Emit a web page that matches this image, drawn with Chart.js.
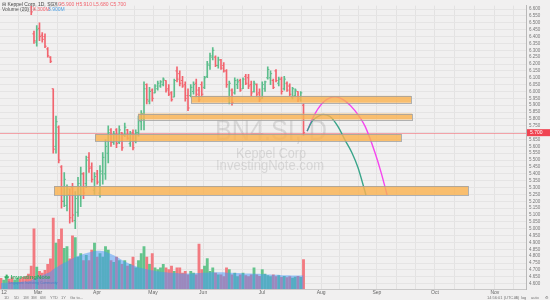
<!DOCTYPE html>
<html>
<head>
<meta charset="utf-8">
<script src="https://cdn.jsdelivr.net/npm/chart.js@4.4.1/dist/chart.umd.min.js"></script>
<style>
  html, body { margin: 0; padding: 0; background: #f1f0f0; }
  #wrap { width: 550px; height: 300px; }
</style>
</head>
<body>
<div id="wrap"><canvas id="chart" width="550" height="300"></canvas></div>
<script>
// time axis: bar index -> month labels
const monthTicks = [1.1, 13.45, 34.9, 55.3, 73.5, 94.9, 116.4, 136.7, 157.8, 179.6];
const monthLabels = ['12', 'Mar', 'Apr', 'May', 'Jun', 'Jul', 'Aug', 'Sep', 'Oct', 'Nov'];

// daily OHLC, BN4.SI
const openP = [6.90, 6.88, 6.90, 6.93, 6.90, 6.86, 6.88, 6.90, 6.87, 6.82, 6.78, 6.70, 6.42, 6.36, 6.46, 6.41, 6.40, 6.31, 6.25, 6.02,
  5.60, 5.74, 5.45, 5.20, 5.17, 5.25, 5.30, 5.06, 5.12, 5.25, 5.40, 5.33, 5.52, 5.45, 5.28, 5.40, 5.26, 5.40, 5.40, 5.55,
  5.72, 5.63, 5.72, 5.63, 5.70, 5.68, 5.72, 5.62, 5.70, 5.64, 5.70, 5.78, 5.80, 6.05, 5.93, 6.01, 5.99, 6.02, 6.04, 6.05,
  6.08, 6.02, 5.99, 5.96, 6.15, 6.13, 6.08, 6.05, 5.97, 5.97, 6.00, 6.06, 6.01, 6.05, 6.03, 6.11, 6.19, 6.25, 6.25, 6.19,
  6.23, 6.19, 6.15, 5.95, 6.01, 5.99, 6.05, 6.08, 6.02, 6.11, 6.10, 6.05, 6.00, 6.05, 5.99, 5.95, 6.02, 6.10, 6.10, 6.08,
  6.15, 6.06, 6.09, 6.02, 6.06, 6.04, 5.96, 5.97, 6.00, 5.95, 5.90];
const highP = [6.95, 6.92, 6.96, 6.97, 6.93, 6.90, 6.92, 6.94, 6.90, 6.86, 6.80, 6.72, 6.44, 6.48, 6.50, 6.43, 6.42, 6.32, 6.255, 6.02,
  5.82, 5.75, 5.46, 5.41, 5.32, 5.29, 5.33, 5.27, 5.375, 5.45, 5.41, 5.53, 5.555, 5.48, 5.41, 5.425, 5.46, 5.555, 5.65, 5.75,
  5.73, 5.71, 5.73, 5.75, 5.70, 5.77, 5.725, 5.71, 5.72, 5.72, 5.82, 5.86, 6.07, 6.055, 6.03, 6.02, 6.05, 6.075, 6.08, 6.10,
  6.08, 6.05, 6.00, 6.09, 6.18, 6.15, 6.11, 6.07, 6.02, 6.05, 6.07, 6.09, 6.03, 6.07, 6.11, 6.22, 6.28, 6.32, 6.26, 6.25,
  6.235, 6.21, 6.16, 6.075, 6.02, 6.10, 6.09, 6.09, 6.10, 6.125, 6.125, 6.075, 6.075, 6.055, 6.02, 6.07, 6.075, 6.18, 6.15, 6.09,
  6.16, 6.105, 6.105, 6.11, 6.07, 6.055, 6.03, 6.02, 6.00, 6.00, 5.91];
const lowP = [6.86, 6.83, 6.87, 6.88, 6.84, 6.82, 6.85, 6.86, 6.80, 6.76, 6.70, 6.56, 6.35, 6.33, 6.37, 6.36, 6.32, 6.25, 6.21, 5.55,
  5.55, 5.48, 5.15, 5.16, 5.13, 5.04, 5.05, 5.00, 5.09, 5.16, 5.22, 5.30, 5.41, 5.34, 5.25, 5.325, 5.23, 5.325, 5.36, 5.48,
  5.60, 5.615, 5.59, 5.62, 5.57, 5.67, 5.65, 5.60, 5.575, 5.625, 5.675, 5.72, 5.72, 5.91, 5.91, 5.93, 5.99, 6.01, 6.03, 6.04,
  5.995, 5.97, 5.93, 5.96, 6.07, 6.04, 6.03, 5.93, 5.86, 5.96, 5.98, 5.96, 5.925, 5.96, 6.02, 6.10, 6.16, 6.23, 6.18, 6.17,
  6.16, 6.14, 6.03, 5.91, 5.90, 5.98, 6.02, 6.00, 6.02, 6.05, 6.02, 5.97, 5.995, 5.96, 5.925, 5.95, 6.00, 6.09, 6.05, 6.02,
  6.07, 6.04, 5.98, 6.01, 6.00, 5.97, 5.945, 5.96, 5.925, 5.93, 5.68];
const closeP = [6.88, 6.90, 6.93, 6.90, 6.86, 6.88, 6.90, 6.87, 6.82, 6.78, 6.72, 6.58, 6.37, 6.45, 6.40, 6.38, 6.33, 6.26, 6.22, 5.58,
  5.78, 5.50, 5.20, 5.36, 5.29, 5.08, 5.10, 5.22, 5.33, 5.40, 5.26, 5.50, 5.44, 5.36, 5.38, 5.34, 5.42, 5.52, 5.60, 5.70,
  5.63, 5.69, 5.62, 5.72, 5.59, 5.74, 5.66, 5.69, 5.59, 5.70, 5.79, 5.84, 6.02, 5.94, 6.00, 5.95, 6.04, 6.06, 6.07, 6.09,
  6.01, 5.98, 5.94, 6.08, 6.09, 6.06, 6.04, 5.95, 5.88, 6.03, 6.05, 5.98, 5.94, 5.98, 6.10, 6.20, 6.26, 6.30, 6.19, 6.23,
  6.17, 6.15, 6.05, 6.06, 5.92, 6.08, 6.07, 6.01, 6.09, 6.06, 6.04, 5.99, 6.06, 5.98, 5.94, 6.05, 6.07, 6.16, 6.13, 6.03,
  6.08, 6.09, 6.00, 6.09, 6.01, 5.98, 6.02, 6.01, 5.94, 5.99, 5.70];
// volume in millions and its 20-day average
const volume = [3.0, 2.5, 3.5, 2.8, 3.2, 2.6, 3.0, 2.9, 3.3, 3.6, 4.2, 6.5, 17, 6.2, 5.0, 4.5, 5.3, 7.0, 8.5, 20,
  13, 14, 17, 11.5, 12, 8.5, 15, 14.5, 9, 10, 8, 9.5, 8, 11, 13, 9, 10, 9, 12, 11,
  8, 7.5, 9, 8, 7, 8, 6.5, 7, 9, 6, 8, 10, 12, 9, 7, 10, 6, 5.5, 6, 7,
  6, 5.5, 6.5, 5, 6, 6, 4.5, 5, 4, 5, 4.5, 4, 12.7, 5.5, 6.5, 8.6, 5, 6, 4.5, 4,
  4, 3.5, 6, 5.5, 4, 4.5, 3.5, 4, 4.5, 3.8, 3.5, 4, 6, 4, 3.6, 5.5, 4.2, 3.8, 3.5, 4,
  3.5, 3.8, 3.3, 3.6, 3.2, 3.5, 3.1, 3.4, 3.6, 3.3, 8.3];
const volumeMA = [1.7, 1.7, 1.8, 1.8, 1.9, 1.9, 2.0, 2.0, 2.1, 2.1, 2.2, 2.4, 3.0, 3.3, 3.6, 3.9, 4.2, 4.5, 4.9, 5.6,
  6.0, 6.5, 7.0, 7.4, 7.8, 8.2, 8.6, 9.0, 9.3, 9.6, 9.9, 10.1, 10.3, 10.5, 10.7, 10.8, 10.8, 10.7, 10.5, 10.2,
  9.9, 9.5, 9.1, 8.7, 8.2, 7.8, 7.4, 7.0, 6.7, 6.4, 6.1, 5.9, 5.7, 5.6, 5.4, 5.3, 5.1, 5.0, 4.9, 4.8,
  4.7, 4.6, 4.6, 4.5, 4.5, 4.4, 4.4, 4.4, 4.4, 4.4, 4.4, 4.5, 4.5, 4.6, 4.6, 4.6, 4.7, 4.7, 4.7, 4.7,
  4.7, 4.7, 4.6, 4.6, 4.6, 4.5, 4.5, 4.5, 4.4, 4.4, 4.4, 4.4, 4.3, 4.3, 4.3, 4.2, 4.2, 4.1, 4.1, 4.0,
  4.0, 4.0, 3.9, 3.9, 3.9, 3.9, 3.8, 3.8, 3.8, 3.8, 3.9];

// support zones: [startIndex, endIndex, topPrice, bottomPrice]
const zones = [
  [69.1, 149.1, 5.968, 5.918],
  [49.8, 149.5, 5.839, 5.796],
  [34.2, 145.5, 5.689, 5.639],
  [19.3, 169.8, 5.311, 5.246]
];
// projected paths drawn on the chart
const pinkPathX = [111.3, 114.2, 117.8, 121.45, 125.1, 128.7, 132.4, 136.0, 138.2, 140.4];
const pinkPathY = [5.711, 5.839, 5.932, 5.961, 5.932, 5.861, 5.746, 5.554, 5.411, 5.246];
const greenPathX = [111.3, 113.1, 115.3, 117.1, 119.6, 122.5, 125.1, 127.6, 129.8, 132.7];
const greenPathY = [5.711, 5.782, 5.818, 5.832, 5.818, 5.746, 5.646, 5.554, 5.446, 5.246];

const UP = '#5dbd8c', DOWN = '#f2646e';
const VUP = 'rgb(100, 196, 140)', VDOWN = 'rgb(242, 122, 128)';
const FONT = '"Liberation Sans", Arial, sans-serif';

const isUp = closeP.map((c, i) => c >= openP[i]);
const lastIdx = closeP.length - 1;
const lastClose = closeP[lastIdx];

// grid: month lines plus two in between
const gridTicks = [];
for (let m = 1; m < monthTicks.length; m++) {
    const a = monthTicks[m], prev = m > 1 ? monthTicks[m - 1] : a - (monthTicks[2] - a);
    gridTicks.push(prev + (a - prev) / 3, prev + 2 * (a - prev) / 3, a);
}
gridTicks.push(monthTicks[monthTicks.length - 1] + 6.8);

const bgPlugin = {
    id: 'bg',
    beforeDraw(chart) {
        const ctx = chart.ctx;
        ctx.save();
        ctx.fillStyle = '#f1f0f0';
        ctx.fillRect(0, 0, chart.width, chart.height);
        ctx.restore();
    }
};

const watermark = {
    id: 'watermark',
    beforeDatasetsDraw(chart) {
        const ctx = chart.ctx;
        ctx.save();
        ctx.fillStyle = 'rgba(90, 90, 90, 0.17)';
        ctx.textAlign = 'center';
        ctx.textBaseline = 'alphabetic';
        ctx.font = '29px ' + FONT;
        ctx.fillText('BN4.SI, D', 271, 140, 112);
        ctx.font = '15px ' + FONT;
        ctx.fillText('Keppel Corp', 271, 158, 70);
        ctx.fillText('InvestingNote.com', 270, 170, 108);
        // last price line
        const y = chart.scales.y.getPixelForValue(lastClose);
        ctx.strokeStyle = 'rgba(245, 110, 120, 0.6)';
        ctx.lineWidth = 1;
        ctx.beginPath();
        ctx.moveTo(0, Math.round(y) + 0.5);
        ctx.lineTo(chart.chartArea.right, Math.round(y) + 0.5);
        ctx.stroke();
        ctx.restore();
    }
};

const ohlcTicks = {
    id: 'ohlcTicks',
    afterDatasetsDraw(chart) {
        const ctx = chart.ctx, xs = chart.scales.x, ys = chart.scales.y;
        const area = chart.chartArea;
        ctx.save();
        ctx.beginPath();
        ctx.rect(area.left, area.top, area.right - area.left, area.bottom - area.top);
        ctx.clip();
        openP.forEach((o, i) => {
            const x = xs.getPixelForValue(i);
            ctx.fillStyle = isUp[i] ? UP : DOWN;
            ctx.fillRect(x - 1.6, ys.getPixelForValue(o) - 0.5, 1.6, 1);
            ctx.fillRect(x, ys.getPixelForValue(closeP[i]) - 0.5, 1.6, 1);
        });
        ctx.restore();
    }
};

const zonePlugin = {
    id: 'zones',
    afterDatasetsDraw(chart) {
        const ctx = chart.ctx, xs = chart.scales.x, ys = chart.scales.y;
        ctx.save();
        zones.forEach(z => {
            const x1 = xs.getPixelForValue(z[0]), x2 = xs.getPixelForValue(z[1]);
            const y1 = ys.getPixelForValue(z[2]), y2 = ys.getPixelForValue(z[3]);
            ctx.fillStyle = 'rgba(250, 178, 80, 0.82)';
            ctx.fillRect(x1, y1, x2 - x1, y2 - y1);
            ctx.strokeStyle = 'rgba(160, 160, 160, 0.8)';
            ctx.lineWidth = 1;
            ctx.strokeRect(Math.round(x1) + 0.5, Math.round(y1) + 0.5, Math.round(x2 - x1), Math.round(y2 - y1));
        });
        ctx.restore();
    }
};

const labels = {
    id: 'labels',
    afterDraw(chart) {
        const ctx = chart.ctx, xs = chart.scales.x;
        ctx.save();
        ctx.textBaseline = 'middle';
        ctx.font = '5px ' + FONT;
        ctx.fillStyle = '#444';
        ctx.fillText('\u229F Keppel Corp, 1D, SGX', 2, 5);
        ctx.fillStyle = '#999';
        ctx.fillText('\u25A2\u25A2 \u2022', 48, 5);
        ctx.fillStyle = DOWN;
        const f = v => v.toFixed(3);
        ctx.fillText('O' + f(openP[lastIdx]) + ' H' + f(highP[lastIdx]) + ' L' + f(lowP[lastIdx]) + ' C' + f(lastClose), 58, 5);
        ctx.fillStyle = '#555';
        ctx.fillText('Volume (20)', 2, 10);
        ctx.fillStyle = '#999';
        ctx.fillText('\u25A2\u25A2 \u2022', 22, 10);
        ctx.fillStyle = DOWN;
        ctx.fillText(volume[lastIdx].toFixed(3) + 'M', 33, 10);
        ctx.fillStyle = '#4a9de0';
        ctx.fillText(volumeMA[lastIdx].toFixed(3) + 'M', 48, 10);

        // community logo, bottom left
        ctx.font = 'bold 6px ' + FONT;
        ctx.fillStyle = 'rgba(40, 170, 90, 0.9)';
        ctx.fillText('\u2618 InvestingNote', 4, 277);
        ctx.font = '3.5px ' + FONT;
        ctx.fillStyle = 'rgba(60, 120, 200, 0.8)';
        ctx.fillText('Singapore Investing Community', 8, 283);

        // month labels on the time axis
        ctx.font = '5px ' + FONT;
        ctx.fillStyle = '#666';
        ctx.textAlign = 'center';
        monthTicks.forEach((v, i) => ctx.fillText(monthLabels[i], xs.getPixelForValue(v), 292.5));

        // bottom toolbar
        ctx.textAlign = 'left';
        ctx.font = '4px ' + FONT;
        ctx.fillStyle = '#777';
        ['1D', '5D', '1M', '3M', '6M', 'YTD', '1Y', 'Go to...'].forEach((t, i) => {
            ctx.fillText(t, [4, 14, 23, 31, 40, 50, 61, 70][i], 297.5);
        });
        ctx.fillText('14:56:01 (UTC+8)', 487, 297.5);
        ctx.fillText('%', 514, 297.5);
        ctx.fillText('log', 521, 297.5);
        ctx.fillText('auto', 531, 297.5);
        ctx.fillText('\u2699', 545, 297.5);

        // last price tag on the price axis
        const y = chart.scales.y.getPixelForValue(lastClose);
        ctx.fillStyle = '#f04452';
        ctx.fillRect(chart.chartArea.right + 1, y - 3.5, 23, 7);
        ctx.fillStyle = '#fff';
        ctx.font = '5px ' + FONT;
        ctx.fillText(lastClose.toFixed(3), chart.chartArea.right + 4, y + 0.3);
        ctx.restore();
    }
};

const idx = openP.map((_, i) => i);

new Chart(document.getElementById('chart'), {
    data: {
        datasets: [
            {
                type: 'line',
                data: greenPathX.map((x, i) => ({ x, y: greenPathY[i] })),
                borderColor: '#3aa58a',
                borderWidth: 1.4,
                pointRadius: 0,
                cubicInterpolationMode: 'monotone',
                order: 1
            },
            {
                type: 'line',
                data: pinkPathX.map((x, i) => ({ x, y: pinkPathY[i] })),
                borderColor: '#f545ee',
                borderWidth: 1.4,
                pointRadius: 0,
                cubicInterpolationMode: 'monotone',
                order: 1
            },
            {
                type: 'bar',
                data: idx.map(i => ({ x: i, y: [lowP[i], highP[i]] })),
                backgroundColor: idx.map(i => isUp[i] ? UP : DOWN),
                barThickness: 1,
                grouped: false,
                order: 2
            },
            {
                type: 'line',
                yAxisID: 'yv',
                data: idx.map(i => ({ x: i, y: volumeMA[i] })),
                borderWidth: 0,
                backgroundColor: 'rgba(70, 150, 250, 0.5)',
                fill: 'origin',
                pointRadius: 0,
                tension: 0.3,
                order: 3
            },
            {
                type: 'bar',
                yAxisID: 'yv',
                data: idx.map(i => ({ x: i, y: volume[i] })),
                backgroundColor: idx.map(i => isUp[i] ? VUP : VDOWN),
                barThickness: 2.2,
                grouped: false,
                order: 4
            }
        ]
    },
    options: {
        responsive: false,
        animation: false,
        devicePixelRatio: 1,
        layout: { padding: 0 },
        plugins: { legend: { display: false }, tooltip: { enabled: false } },
        scales: {
            x: {
                type: 'linear',
                min: -0.36,
                max: 190.9,
                offset: false,
                grid: { color: '#e3e2e2', drawTicks: false, offset: false },
                border: { color: '#c9c8c8' },
                afterBuildTicks: axis => { axis.ticks = gridTicks.map(v => ({ value: v })); },
                afterFit: axis => { axis.height = 11; },
                ticks: { display: false }
            },
            y: {
                position: 'right',
                min: 4.561,
                max: 6.625,
                grid: { color: '#e5e4e4', drawTicks: false },
                border: { color: '#b9b8b8' },
                afterFit: axis => { axis.width = 24; },
                ticks: {
                    stepSize: 0.05,
                    includeBounds: false,
                    autoSkip: false,
                    padding: 3,
                    color: '#777',
                    font: { size: 4.5, family: FONT },
                    callback: v => v.toFixed(3)
                }
            },
            yv: {
                display: false,
                min: 0,
                max: 80
            }
        }
    },
    plugins: [bgPlugin, watermark, ohlcTicks, zonePlugin, labels]
});
</script>
</body>
</html>
